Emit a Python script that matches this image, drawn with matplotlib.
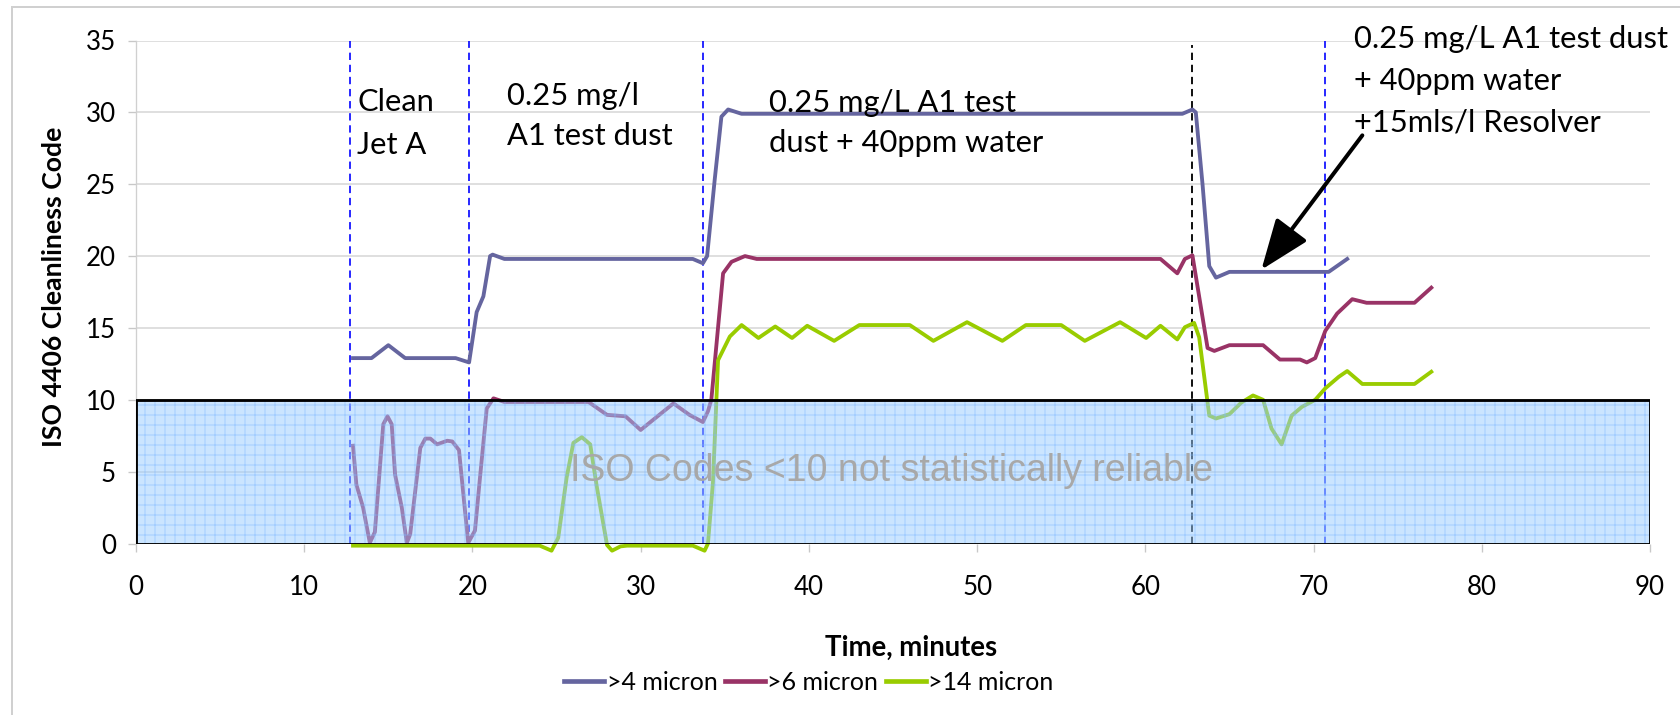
import matplotlib
matplotlib.use("Agg")
import matplotlib.pyplot as plt
from matplotlib.patches import Rectangle

# ISO 4406 cleanliness code vs time, three particle size channels
t4 = [12.9, 14.0, 15.0, 16.0, 19.0, 19.8, 20.25, 20.65, 21.05, 21.2, 21.9, 33.1, 33.7, 33.95,
      34.4, 34.8, 35.2, 36.0, 62.2, 62.8, 63.0, 63.4, 63.8, 64.2, 65.0, 70.9, 72.0]
v4 = [12.9, 12.9, 13.8, 12.9, 12.9, 12.6, 16.1, 17.2, 20.0, 20.1, 19.8, 19.8, 19.5, 20.0,
      25.3, 29.7, 30.2, 29.9, 29.9, 30.2, 30.0, 25.0, 19.3, 18.5, 18.9, 18.9, 19.8]

t6 = [12.9, 13.1, 13.5, 13.9, 14.2, 14.7, 14.95, 15.2, 15.4, 15.8, 16.1, 16.3, 16.9, 17.2,
      17.5, 17.9, 18.5, 18.8, 19.2, 19.5, 19.75, 20.15, 20.45, 20.85, 21.25, 21.9, 26.9,
      28.0, 29.1, 30.0, 31.95, 32.9, 33.7, 34.0, 34.2, 34.9, 35.4, 36.2, 36.9, 60.9, 61.9,
      62.35, 62.8, 63.7, 64.1, 65.0, 67.0, 68.0, 69.2, 69.6, 70.1, 70.7, 71.4, 72.3, 73.15,
      76.0, 77.0]
v6 = [6.8, 4.1, 2.5, 0.05, 0.8, 8.3, 8.85, 8.3, 4.8, 2.5, 0.05, 0.65, 6.65, 7.3,
      7.3, 6.9, 7.15, 7.1, 6.5, 2.95, 0.05, 0.9, 4.6, 9.4, 10.1, 9.85, 9.85,
      8.95, 8.85, 7.9, 9.75, 8.95, 8.45, 9.2, 10.0, 18.8, 19.6, 20.0, 19.8, 19.8, 18.8,
      19.8, 20.05, 13.6, 13.4, 13.8, 13.8, 12.8, 12.8, 12.6, 12.9, 14.8, 16.0, 17.0, 16.75,
      16.75, 17.8]

t14 = [12.9, 24.0, 24.7, 25.1, 25.6, 26.0, 26.5, 27.0, 27.4, 28.0, 28.3, 28.8, 29.2, 33.1,
       33.8, 34.0, 34.3, 34.6, 35.3, 36.0, 37.0, 38.0, 39.0, 39.9, 41.5, 43.0, 46.0, 47.4,
       49.4, 51.5, 52.9, 55.0, 56.4, 58.5, 60.05, 60.9, 61.9, 62.35, 62.9, 63.2, 63.8, 64.2,
       65.0, 65.7, 66.4, 67.0, 67.5, 68.1, 68.7, 69.3, 70.1, 70.7, 71.5, 72.0, 72.9, 76.0, 77.0]
v14 = [-0.15, -0.15, -0.5, 0.4, 4.6, 7.0, 7.4, 6.9, 3.9, -0.1, -0.5, -0.2, -0.15, -0.15,
       -0.5, 0, 4.3, 12.75, 14.4, 15.2, 14.3, 15.1, 14.3, 15.15, 14.1, 15.2, 15.2, 14.1,
       15.4, 14.1, 15.2, 15.2, 14.1, 15.4, 14.3, 15.15, 14.2, 15.05, 15.35, 14.35, 8.9, 8.7,
       9.0, 9.8, 10.3, 10.0, 8.0, 6.9, 8.9, 9.5, 10.0, 10.8, 11.6, 12.0, 11.1, 11.1, 11.95]

phase_lines = [12.7, 19.8, 33.7, 70.7]
resolver_line = 62.8

labels = [
    (13.15, [30.1, 27.1], ["Clean", "Jet A"]),
    (22.05, [30.5, 27.7], ["0.25 mg/l", "A1 test dust"]),
    (37.6, [30.05, 27.25], ["0.25 mg/L A1 test", "dust + 40ppm water"]),
    (72.4, [34.46, 31.56, 28.66], ["0.25 mg/L A1 test dust", "+ 40ppm water", "+15mls/l Resolver"]),
]

fig = plt.figure(figsize=(14, 715 / 120), dpi=120)
ax = fig.add_axes([136 / 1680, 1 - 543.5 / 715, 1514 / 1680, 503 / 715])

# chart area border
fig.patches.append(Rectangle((12 / 1680, -0.1), 1.2, 1 - 7 / 715 + 0.1, transform=fig.transFigure,
                             fill=False, edgecolor="#d0d0d0", lw=1.2))

ax.plot(t4, v4, color="#65659f", lw=2.3, label=">4 micron", zorder=3)
ax.plot(t6, v6, color="#993366", lw=2.3, label=">6 micron", zorder=3, clip_on=False)
ax.plot(t14, v14, color="#99cc00", lw=2.3, label=">14 micron", zorder=3, clip_on=False)

ax.vlines(phase_lines, 0, 35, colors="#1a1aff", lw=1.1, linestyles=(0, (4, 2.6)), zorder=2)
ax.vlines(resolver_line, 0, 34.7, colors="black", lw=1.1, linestyles=(0, (4, 2.6)), zorder=2)

# unreliable region
plt.rcParams["hatch.linewidth"] = 0.6
ax.add_patch(Rectangle((0, 0), 90, 10, facecolor="#99ccff", edgecolor="#7fb8ff", hatch="++",
                       lw=0, alpha=0.5, zorder=4))
ax.add_patch(Rectangle((0, 0), 90, 10, fill=False, edgecolor="black", lw=1.7, zorder=5))
ax.text(44.9, 5.05, "ISO Codes <10 not statistically reliable", ha="center", va="center",
        fontsize=22.5, color="#a8a8a8", family="Liberation Sans", zorder=6)

for x, ys, lines in labels:
    for y, s in zip(ys, lines):
        ax.text(x, y, s, ha="left", va="baseline", fontsize=18.5, family="Lato", clip_on=False)

ax.annotate("", xy=(66.9, 19.05), xytext=(72.9, 28.4),
            arrowprops=dict(arrowstyle="-|>,head_length=26,head_width=10", mutation_scale=1,
                            color="black", lw=2.4, shrinkA=0, shrinkB=0), zorder=7)

ax.set_xlim(0, 90)
ax.set_ylim(0, 35)
ax.set_xticks(range(0, 91, 10))
ax.set_yticks(range(0, 36, 5))
ax.grid(axis="y", color="#d9d9d9", lw=1.0)
ax.set_axisbelow(True)
for side in ["top", "right", "bottom"]:
    ax.spines[side].set_visible(False)
ax.spines["left"].set_color("#d0d0d0")
ax.tick_params(axis="both", colors="#c8c8c8", length=5, labelcolor="black", labelsize=15.5)
ax.tick_params(axis="x", pad=14)
ax.tick_params(axis="y", pad=7)
for lab in ax.get_xticklabels() + ax.get_yticklabels():
    lab.set_family("Lato")

ax.set_xlabel("Time, minutes", fontsize=16.5, fontweight="bold", family="Lato", va="center")
ax.xaxis.set_label_coords(0.5117, -0.2078)
ax.set_ylabel("ISO 4406 Cleanliness Code", fontsize=16, fontweight="bold", family="Lato", va="center")
ax.yaxis.set_label_coords(-0.0544, 0.511)

leg = fig.legend(loc="center", bbox_to_anchor=(0.4815, 0.046), ncol=3, frameon=False,
                 prop={"family": "Lato", "size": 15}, handlelength=1.6, handletextpad=0.1,
                 columnspacing=0.3)
for h in leg.get_lines():
    h.set_linewidth(2.8)

fig.savefig("out.png", dpi=120)
